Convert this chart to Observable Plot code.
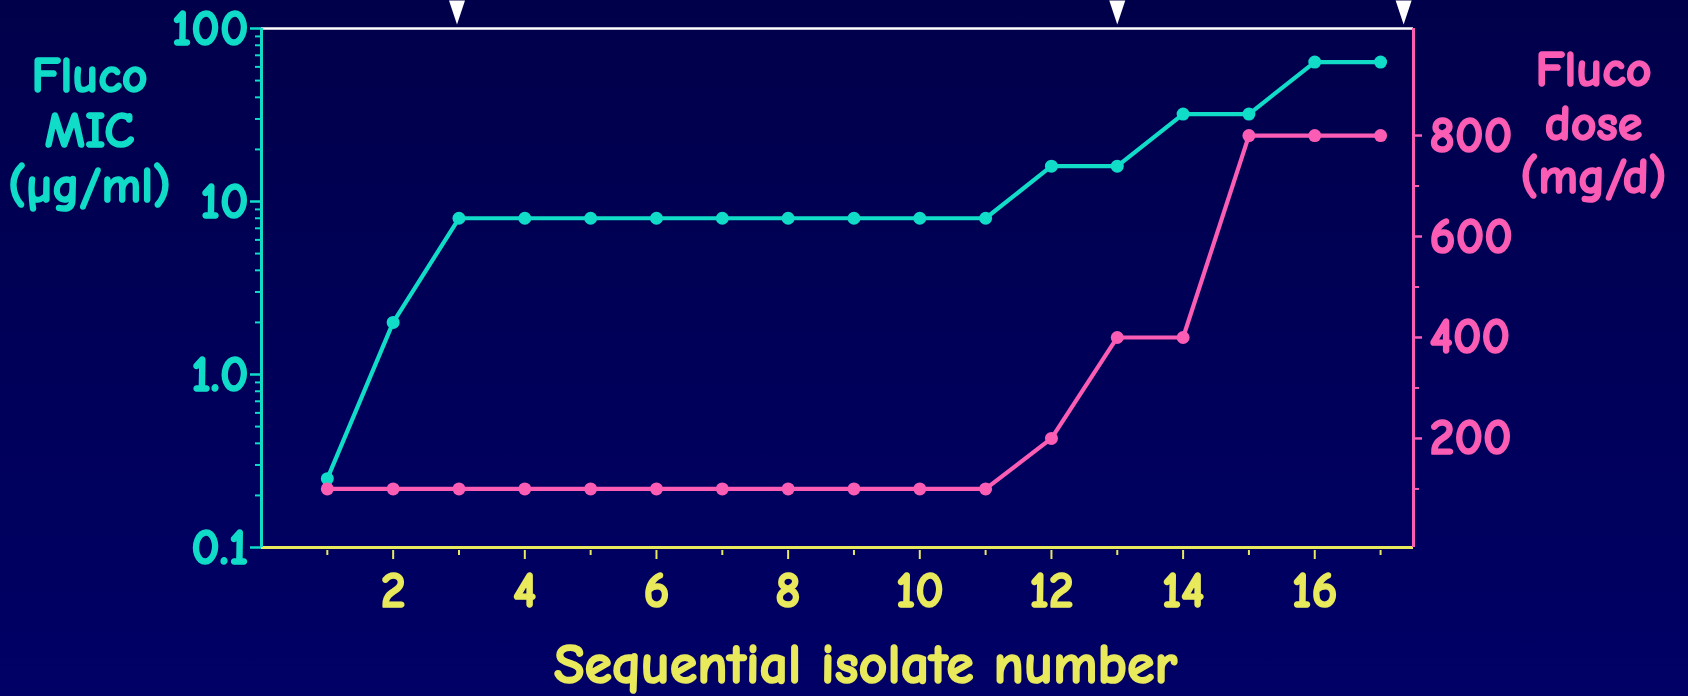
<!DOCTYPE html>
<html>
<head>
<meta charset="utf-8">
<script src="https://cdn.jsdelivr.net/npm/d3@7"></script>
<script src="https://cdn.jsdelivr.net/npm/@observablehq/plot@0.6"></script>
<style>
html, body { margin: 0; padding: 0; background: #00004c; }
#chart { position: relative; width: 1688px; height: 696px; background: linear-gradient(#00004a, #000066); overflow: hidden; }
#chart svg { position: absolute; left: 0; top: 0; }
</style>
</head>
<body>
<div id="chart"></div>
<script>
// ---- data ----
const isolates = [1, 2, 3, 4, 5, 6, 7, 8, 9, 10, 11, 12, 13, 14, 15, 16, 17];
const micValues = [0.25, 2, 8, 8, 8, 8, 8, 8, 8, 8, 8, 16, 16, 32, 32, 64, 64];
const doseValues = [100, 100, 100, 100, 100, 100, 100, 100, 100, 100, 100, 200, 400, 400, 800, 800, 800];
const markerIsolates = [2.97, 13, 17.35];

// ---- ticks & labels ----
const xMajorTicks = [2, 4, 6, 8, 10, 12, 14, 16];
const xMinorTicks = [1, 3, 5, 7, 9, 11, 13, 15, 17];
const micTicks = [0.1, 1, 10, 100];
const micTickLabels = ["0.1", "1.0", "10", "100"];
const micMinorTicks = [0.2, 0.3, 0.4, 0.5, 0.6, 0.7, 0.8, 0.9, 2, 3, 4, 5, 6, 7, 8, 9, 20, 30, 40, 50, 60, 70, 80, 90];
const doseTicks = [200, 400, 600, 800];
const doseMinorTicks = [100, 300, 500, 700];
const xTitle = "Sequential isolate number";
const micTitle = ["Fluco", "MIC", "(µg/ml)"];
const doseTitle = ["Fluco", "dose", "(mg/d)"];

const CYAN = "#10dcc8";
const PINK = "#fb5cb4";
const YELLOW = "#e9e95c";
const FONT = '"Comic Sans MS", "Comic Neue", Lato, "Noto Sans", sans-serif';

const micData = isolates.map((k, i) => ({isolate: k, mic: micValues[i]}));
const doseData = isolates.map((k, i) => ({isolate: k, dose: doseValues[i]}));

const narrowTriangle = {
  draw(ctx) {
    ctx.moveTo(-8, -12);
    ctx.lineTo(8, -12);
    ctx.lineTo(0, 12);
    ctx.closePath();
  }
};

const common = {
  width: 1688, height: 696,
  marginLeft: 261, marginRight: 275, marginTop: 28, marginBottom: 149,
  style: {background: "transparent", fontFamily: FONT, fontWeight: "bold", fontSize: "50px", overflow: "visible"}
};

const p1 = Plot.plot({
  ...common,
  x: {domain: [0, 17.5]},
  y: {type: "log", domain: [0.1, 100]},
  marks: [
    Plot.ruleY([100], {stroke: "white", strokeWidth: 2.5}),
    Plot.ruleY([0.1], {stroke: YELLOW, strokeWidth: 3}),
    Plot.ruleX([0], {stroke: CYAN, strokeWidth: 3}),
    Plot.axisY(micMinorTicks, {anchor: "left", tickSize: 6, tickFormat: () => "", color: CYAN, strokeWidth: 2, label: null}),
    Plot.axisY(micTicks, {anchor: "left", tickSize: 11, tickPadding: 2, tickFormat: (d) => micTickLabels[micTicks.indexOf(d)], color: CYAN, strokeWidth: 2.5, fontSize: 50, label: null}),
    Plot.axisX(xMinorTicks, {anchor: "bottom", tickSize: 5, dy: 3, tickFormat: () => "", color: YELLOW, strokeWidth: 2, label: null}),
    Plot.axisX(xMajorTicks, {anchor: "bottom", tickSize: 9, dy: 3, tickPadding: 12, color: YELLOW, strokeWidth: 2, fontSize: 50, label: null}),
    Plot.line(micData, {x: "isolate", y: "mic", stroke: CYAN, strokeWidth: 4.2}),
    Plot.dot(micData, {x: "isolate", y: "mic", r: 6.5, fill: CYAN}),
    Plot.dot(markerIsolates, {x: d => d, y: () => 100, dy: -16, symbol: narrowTriangle, fill: "white"}),
    Plot.text([micTitle.join("\n")], {text: d => d, frameAnchor: "top-left", dx: -172, dy: 101, textAnchor: "middle", lineAnchor: "middle", lineHeight: 1.1, fontSize: 50, fill: CYAN}),
    Plot.text([doseTitle.join("\n")], {text: d => d, frameAnchor: "top-right", dx: 180, dy: 94, textAnchor: "middle", lineAnchor: "middle", lineHeight: 1.07, fontSize: 50, fill: PINK}),
    Plot.text([xTitle], {text: d => d, frameAnchor: "bottom", dx: 28, dy: 118, textAnchor: "middle", lineAnchor: "middle", fontSize: 56, fill: YELLOW})
  ]
});

const p2 = Plot.plot({
  ...common,
  x: {domain: [0, 17.5], axis: null},
  y: {domain: [-16, 1012]},
  marks: [
    Plot.ruleX([17.5], {stroke: PINK, strokeWidth: 3}),
    Plot.axisY(doseMinorTicks, {anchor: "right", tickSize: 5, tickFormat: () => "", color: PINK, strokeWidth: 2, label: null}),
    Plot.axisY(doseTicks, {anchor: "right", tickSize: 8, tickPadding: 8, color: PINK, strokeWidth: 2.5, fontSize: 50, label: null}),
    Plot.line(doseData, {x: "isolate", y: "dose", stroke: PINK, strokeWidth: 4.2}),
    Plot.dot(doseData, {x: "isolate", y: "dose", r: 6.5, fill: PINK})
  ]
});

const chart = document.getElementById("chart");
chart.appendChild(p1);
chart.appendChild(p2);

// heavier lettering, like the bold comic face of the original
chart.querySelectorAll("text").forEach(el => {
  if (!el.textContent.trim()) return;
  const fill = getComputedStyle(el).fill;
  el.setAttribute("stroke", fill);
  el.setAttribute("stroke-width", "1.6");
  el.setAttribute("stroke-linejoin", "round");
});
</script>
</body>
</html>
